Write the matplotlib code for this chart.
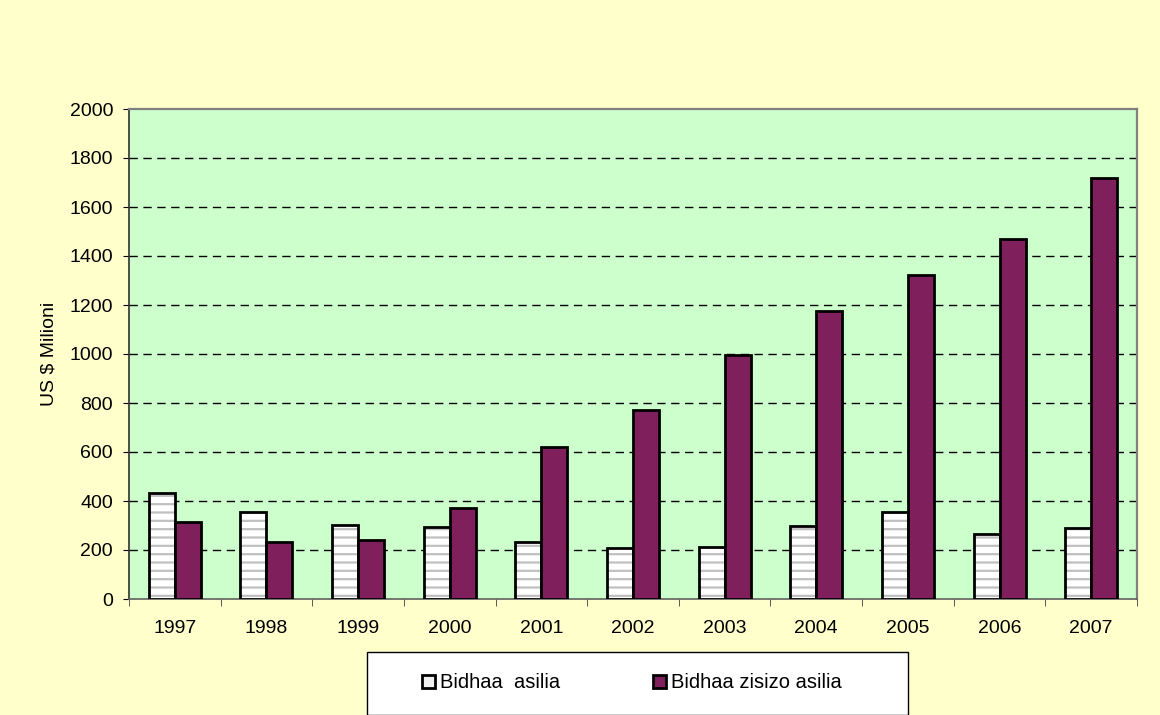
import numpy as np
import matplotlib.pyplot as plt
from matplotlib.patches import Rectangle

years = ['1997', '1998', '1999', '2000', '2001', '2002', '2003', '2004', '2005', '2006', '2007']
asilia = [433, 355, 301, 293, 231, 207, 214, 297, 355, 265, 290]
zisizo_asilia = [316, 231, 240, 370, 621, 771, 996, 1174, 1322, 1468, 1717]
y_ticks = [0, 200, 400, 600, 800, 1000, 1200, 1400, 1600, 1800, 2000]

plt.rcParams['font.family'] = ['Liberation Sans', 'DejaVu Sans']
plt.rcParams['hatch.linewidth'] = 1.6
plt.rcParams['hatch.color'] = '#c0c0c0'

fig = plt.figure(figsize=(11.6, 7.15), dpi=100, facecolor='#FFFFCC')
ax = fig.add_axes([129 / 1160, 116 / 715, 1008 / 1160, 490 / 715])
ax.set_facecolor('#CCFFCC')

x = np.arange(len(years))
w = 0.284

# hatched white bars: hatch layer first, then black outline on top
ax.bar(x - w / 2, asilia, w, color='white', hatch='--', edgecolor='#c0c0c0',
       linewidth=0, zorder=3)
ax.bar(x - w / 2, asilia, w, fill=False, edgecolor='black', linewidth=2, zorder=4)
ax.bar(x + w / 2, zisizo_asilia, w, color='#7F1F5C', edgecolor='black',
       linewidth=2, zorder=4)

ax.set_xlim(-0.5, len(years) - 0.5)
ax.set_ylim(0, 2000)
ax.set_yticks(y_ticks)
ax.set_yticklabels([str(v) for v in y_ticks], fontsize=14)
ax.set_xticks(x)
ax.set_xticklabels(years, fontsize=14)
ax.set_xticks(np.arange(-0.5, len(years)), minor=True)
ax.tick_params(axis='x', which='major', length=0, pad=15)
ax.tick_params(axis='x', which='minor', length=5, direction='out', color='#404040')
ax.tick_params(axis='y', length=4.5, direction='out', pad=7)

for v in y_ticks[1:-1]:
    ax.axhline(v, color='black', linewidth=1, dashes=(6, 4), zorder=2)

for s in ['top', 'right']:
    ax.spines[s].set_color('#808080')
    ax.spines[s].set_linewidth(1.6)
ax.spines['left'].set_color('#303030')
ax.spines['bottom'].set_color('#606060')
ax.spines['left'].set_linewidth(1.2)
ax.spines['bottom'].set_linewidth(1.2)

ax.set_ylabel('US $ Milioni', fontsize=14)
ax.yaxis.set_label_coords(-0.0714, 0.5)

# legend box
fig.patches.append(Rectangle((367 / 1160, 0), 541 / 1160, 63 / 715,
                             transform=fig.transFigure, facecolor='white',
                             edgecolor='black', linewidth=1))
h1 = Rectangle((0, 0), 1, 1, facecolor='#f0f0f0', edgecolor='black', linewidth=2)
h2 = Rectangle((0, 0), 1, 1, facecolor='#7F1F5C', edgecolor='black', linewidth=2)
fig.legend([h1, h2], ['Bidhaa  asilia', 'Bidhaa zisizo asilia'], ncol=2,
           loc='center', bbox_to_anchor=(632 / 1160, 32 / 715), frameon=False,
           fontsize=14.5, handlelength=0.65, handleheight=0.65, handletextpad=0.25,
           columnspacing=4.6)

fig.savefig('out.png', dpi=100, facecolor=fig.get_facecolor())
